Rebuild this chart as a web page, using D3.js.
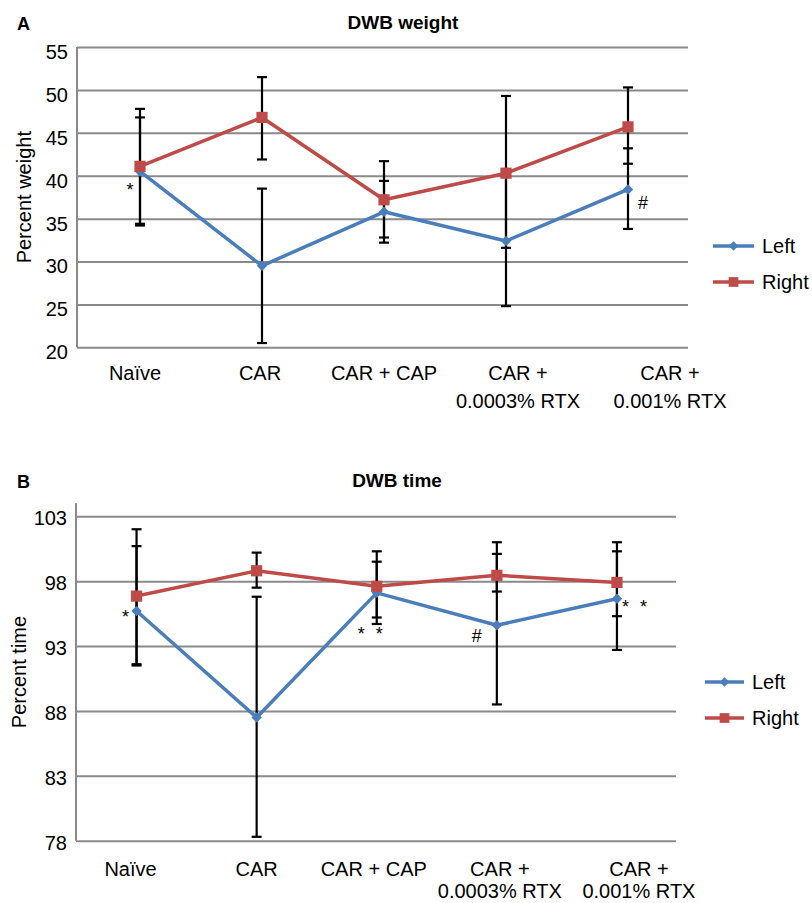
<!DOCTYPE html>
<html>
<head>
<meta charset="utf-8">
<script src="https://cdn.jsdelivr.net/npm/d3@7/dist/d3.min.js"></script>
<style>
  body { margin: 0; background: #fff; }
  svg { display: block; font-family: "Liberation Sans", Arial, sans-serif; }
</style>
</head>
<body>
<svg id="chart"></svg>
<script>
// categories along x, two lines per label where Excel wrapped them
const categories = [["Naïve"], ["CAR"], ["CAR + CAP"], ["CAR +", "0.0003% RTX"], ["CAR +", "0.001% RTX"]];
const seriesNames = ["Left", "Right"];

// DWB weight (%)
const weightLeft = [40.5, 29.5, 35.8, 32.4, 38.4];
const weightLeftLow = [34.2, 20.5, 32.2, 24.8, 33.8];
const weightLeftHigh = [46.8, 38.5, 39.4, 40.0, 43.2];
const weightRight = [41.1, 46.8, 37.2, 40.3, 45.7];
const weightRightLow = [34.4, 41.9, 32.8, 31.6, 41.4];
const weightRightHigh = [47.8, 51.5, 41.7, 49.3, 50.3];
const weightTicks = [20, 25, 30, 35, 40, 45, 50, 55];

// DWB time (%)
const timeLeft = [95.7, 87.5, 97.1, 94.6, 96.65];
const timeLeftLow = [91.5, 78.3, 94.7, 88.5, 92.7];
const timeLeftHigh = [100.7, 96.8, 99.5, 101.0, 101.0];
const timeRight = [96.85, 98.8, 97.6, 98.45, 97.9];
const timeRightLow = [91.6, 97.5, 95.2, 97.2, 95.3];
const timeRightHigh = [102.0, 100.2, 100.3, 100.1, 100.3];
const timeTicks = [78, 83, 88, 93, 98, 103];

// significance marks, placed next to the Left point of a category
const weightNotes = [
  {cat: 0, text: "*", dx: -10, dy: 25},
  {cat: 4, text: "#", dx: 15, dy: 20}
];
const timeNotes = [
  {cat: 0, text: "*", dx: -11, dy: 12},
  {cat: 2, text: "* *", dx: -5, dy: 47},
  {cat: 3, text: "#", dx: -20, dy: 17},
  {cat: 4, text: "* *", dx: 19, dy: 14}
];

const colors = {Left: "#4a7ebb", Right: "#be4b48"};
const gridColor = "#8a8a8a";

const svg = d3.select("#chart")
    .attr("width", 812)
    .attr("height", 903);

const panels = [
  {
    letter: "A", letterY: 30, title: "DWB weight", titleX: 403, titleY: 29,
    yLabel: "Percent weight", yLabelX: 24,
    domain: [20, 55], yRange: [347.3, 47.1], ticks: weightTicks, tickDy: 5,
    axisX: 77, xRange: [79, 689], gridEnd: 688,
    left: weightLeft, leftLow: weightLeftLow, leftHigh: weightLeftHigh,
    right: weightRight, rightLow: weightRightLow, rightHigh: weightRightHigh,
    labelY: 380, labelGap: 28, labelDx: [-5, -2, 0, 12, 42],
    legendX: 713, legendY: 246, legendGap: 36, legendLen: 41,
    notes: weightNotes
  },
  {
    letter: "B", letterY: 488, title: "DWB time", titleX: 397, titleY: 487,
    yLabel: "Percent time", yLabelX: 19,
    domain: [78, 104], yRange: [840.7, 503.3], ticks: timeTicks, tickDy: 2,
    axisX: 76, xRange: [76.5, 677], gridEnd: 676,
    left: timeLeft, leftLow: timeLeftLow, leftHigh: timeLeftHigh,
    right: timeRight, rightLow: timeRightLow, rightHigh: timeRightHigh,
    labelY: 876, labelGap: 22, labelDx: [-6, 0, -3, 3, 22],
    legendX: 705, legendY: 682, legendGap: 36, legendLen: 39,
    notes: timeNotes
  }
];

const diamond = d3.symbol().type(d3.symbolDiamond2).size(70);
const square = d3.symbol().type(d3.symbolSquare2).size(160);
const legendDiamond = d3.symbol().type(d3.symbolDiamond2).size(55);
const legendSquare = d3.symbol().type(d3.symbolSquare2).size(120);

panels.forEach(p => {
  const g = svg.append("g");

  const x = d3.scaleBand()
      .domain(d3.range(categories.length))
      .range(p.xRange);
  const cx = i => x(i) + x.bandwidth() / 2;

  const y = d3.scaleLinear()
      .domain(p.domain)
      .range(p.yRange);

  // panel letter and title
  g.append("text")
      .attr("x", 17).attr("y", p.letterY)
      .attr("font-size", 18).attr("font-weight", "bold")
      .text(p.letter);
  g.append("text")
      .attr("x", p.titleX).attr("y", p.titleY)
      .attr("text-anchor", "middle")
      .attr("font-size", 19).attr("font-weight", "bold")
      .text(p.title);

  // gridlines + tick labels
  g.append("g")
      .attr("transform", `translate(${p.axisX},0)`)
      .call(d3.axisLeft(y).tickValues(p.ticks).tickSize(-(p.gridEnd - p.axisX)).tickPadding(9))
      .call(a => a.select(".domain").remove())
      .call(a => a.selectAll(".tick line").attr("stroke", gridColor).attr("stroke-width", 2))
      .call(a => a.selectAll(".tick text")
          .attr("font-size", 20)
          .attr("font-family", "'Liberation Sans', Arial, sans-serif")
          .attr("fill", "#000")
          .attr("transform", `translate(0,${p.tickDy})`));

  // vertical axis line
  g.append("line")
      .attr("x1", p.axisX).attr("x2", p.axisX)
      .attr("y1", y(p.domain[1])).attr("y2", y(p.domain[0]))
      .attr("stroke", gridColor).attr("stroke-width", 2);

  // y axis title
  g.append("text")
      .attr("transform", `translate(${p.yLabelX},${(y(p.domain[0]) + y(p.domain[1])) / 2}) rotate(-90)`)
      .attr("text-anchor", "middle")
      .attr("dominant-baseline", "central")
      .attr("font-size", 20)
      .text(p.yLabel);

  // category labels
  const lab = g.append("g").selectAll("text")
      .data(categories)
      .join("text")
      .attr("text-anchor", "middle")
      .attr("font-size", 20)
      .attr("transform", (d, i) => `translate(${cx(i) + p.labelDx[i]},${p.labelY})`);
  lab.selectAll("tspan")
      .data(d => d)
      .join("tspan")
      .attr("x", 0)
      .attr("y", (d, j) => j * p.labelGap)
      .text(d => d);

  const series = [
    {name: "Left", values: p.left, low: p.leftLow, high: p.leftHigh, symbol: diamond},
    {name: "Right", values: p.right, low: p.rightLow, high: p.rightHigh, symbol: square}
  ];

  const line = d3.line()
      .x((d, i) => cx(i))
      .y(d => y(d));

  // lines
  series.forEach(s => {
    g.append("path")
        .datum(s.values)
        .attr("fill", "none")
        .attr("stroke", colors[s.name])
        .attr("stroke-width", 3.5)
        .attr("stroke-linejoin", "round")
        .attr("d", line);
  });

  // error bars
  series.forEach(s => {
    const eb = g.append("g")
        .attr("stroke", "#000")
        .attr("stroke-width", 2.2)
        .selectAll("g")
        .data(s.values.map((v, i) => ({i, lo: s.low[i], hi: s.high[i]})))
        .join("g");
    eb.append("line")
        .attr("x1", d => cx(d.i)).attr("x2", d => cx(d.i))
        .attr("y1", d => y(d.lo)).attr("y2", d => y(d.hi));
    eb.append("line")
        .attr("x1", d => cx(d.i) - 5).attr("x2", d => cx(d.i) + 5)
        .attr("y1", d => y(d.lo)).attr("y2", d => y(d.lo));
    eb.append("line")
        .attr("x1", d => cx(d.i) - 5).attr("x2", d => cx(d.i) + 5)
        .attr("y1", d => y(d.hi)).attr("y2", d => y(d.hi));
  });

  // markers
  series.forEach(s => {
    g.append("g").selectAll("path")
        .data(s.values)
        .join("path")
        .attr("transform", (d, i) => `translate(${cx(i)},${y(d)})`)
        .attr("d", s.symbol)
        .attr("fill", colors[s.name]);
  });

  // significance marks
  g.append("g").selectAll("text")
      .data(p.notes)
      .join("text")
      .attr("x", d => cx(d.cat) + d.dx)
      .attr("y", d => y(p.left[d.cat]) + d.dy)
      .attr("text-anchor", "middle")
      .attr("font-size", 18)
      .attr("letter-spacing", d => d.text.length > 1 ? 3 : 0)
      .style("white-space", "pre")
      .text(d => d.text);

  // legend
  const leg = g.append("g").selectAll("g")
      .data(seriesNames)
      .join("g")
      .attr("transform", (d, i) => `translate(${p.legendX},${p.legendY + i * p.legendGap})`);
  leg.append("line")
      .attr("x1", 0).attr("x2", p.legendLen)
      .attr("stroke", d => colors[d])
      .attr("stroke-width", 3.5);
  leg.append("path")
      .attr("transform", `translate(${p.legendLen / 2},0)`)
      .attr("d", d => d === "Left" ? legendDiamond() : legendSquare())
      .attr("fill", d => colors[d]);
  leg.append("text")
      .attr("x", p.legendLen + 8)
      .attr("dy", "0.35em")
      .attr("font-size", 20)
      .text(d => d);
});
</script>
</body>
</html>
